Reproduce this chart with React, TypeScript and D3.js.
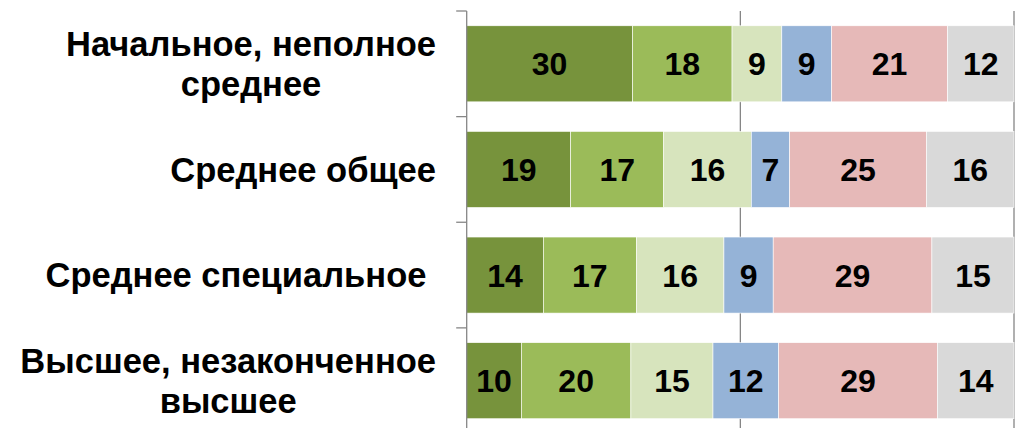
import React from "react";
import * as d3 from "d3";

const categories: string[][] = [
  ["Начальное, неполное", "среднее"],
  ["Среднее общее"],
  ["Среднее специальное "],
  ["Высшее, незаконченное", "высшее"],
];
const categoryKeys = ["c0", "c1", "c2", "c3"];

const s1 = [30, 19, 14, 10];
const s2 = [18, 17, 17, 20];
const s3 = [9, 16, 16, 15];
const s4 = [9, 7, 9, 12];
const s5 = [21, 25, 29, 29];
const s6 = [12, 16, 15, 14];
const seriesValues = [s1, s2, s3, s4, s5, s6];
const seriesColors = ["#77933C", "#9BBB59", "#D7E4BD", "#95B3D7", "#E6B9B8", "#D9D9D9"];
const gridTicks = [0.5, 1];

const W = 1020;
const H = 428;
const FONT = "'Liberation Sans', Arial, sans-serif";
const CAT_SIZE = 34.5;
const VAL_SIZE = 32;

function measure(text: string, size: number): number {
  if (typeof document === "undefined") return text.length * size * 0.6;
  const c = document.createElement("canvas");
  const ctx = c.getContext("2d");
  if (!ctx) return text.length * size * 0.6;
  ctx.font = `bold ${size}px 'Liberation Sans', Arial, sans-serif`;
  return ctx.measureText(text).width;
}

export default function App() {
  const x = d3.scaleLinear().domain([0, 1]).range([466.7, 1014]);
  const y = d3
    .scaleBand<string>()
    .domain(categoryKeys)
    .range([11, 433.5])
    .paddingInner(0.28)
    .paddingOuter(0.14);

  const rows = categoryKeys.map((k, i) => {
    const vals = seriesValues.map((s) => s[i]);
    const total = d3.sum(vals);
    let acc = 0;
    return vals.map((v, j) => {
      const x0 = acc / total;
      acc += v;
      const x1 = acc / total;
      return { key: k, v, x0, x1, color: seriesColors[j] };
    });
  });

  const step = y.step();
  const bandStart = (k: string) => (y(k) as number) - (y.paddingInner() * step) / 2;
  const boundaries = categoryKeys.map((k) => bandStart(k));
  boundaries.push(bandStart(categoryKeys[categoryKeys.length - 1]) + step);

  const lineH = 40;
  const labelRight = 436;

  return (
    <svg
      width={W}
      height={H}
      style={{ position: "absolute", left: 0, top: 0, display: "block", background: "#fff" }}
    >
      {gridTicks.map((t) => (
        <line key={t} x1={x(t)} x2={x(t)} y1={11} y2={H + 10} stroke="#868686" strokeWidth={1.3} />
      ))}
      {rows.map((row, i) =>
        row.map((d, j) => (
          <rect
            key={`${i}-${j}`}
            x={x(d.x0)}
            y={y(d.key)}
            width={x(d.x1) - x(d.x0)}
            height={y.bandwidth()}
            fill={d.color}
            stroke="#fff"
            strokeWidth={0.6}
          />
        ))
      )}
      <line x1={x(0)} x2={x(0)} y1={11} y2={H + 10} stroke="#868686" strokeWidth={1.3} />
      {boundaries.map((b, i) => (
        <line key={i} x1={x(0) - 10.5} x2={x(0)} y1={b} y2={b} stroke="#868686" strokeWidth={1.3} />
      ))}
      {rows.map((row, i) =>
        row.map((d, j) => (
          <text
            key={`t${i}-${j}`}
            x={(x(d.x0) + x(d.x1)) / 2}
            y={(y(d.key) as number) + y.bandwidth() / 2}
            dy="0.36em"
            textAnchor="middle"
            fontFamily={FONT}
            fontWeight="bold"
            fontSize={VAL_SIZE}
            fill="#000"
          >
            {d.v}
          </text>
        ))
      )}
      {categories.map((lines, i) => {
        const cy = (y(categoryKeys[i]) as number) + y.bandwidth() / 2;
        const startY = cy - ((lines.length - 1) * lineH) / 2;
        const widths = lines.map((l) => measure(l, CAT_SIZE));
        const maxW = Math.max(...widths);
        const center = labelRight - maxW / 2;
        return (
          <text
            key={`c${i}`}
            fontFamily={FONT}
            fontWeight="bold"
            fontSize={CAT_SIZE}
            fill="#000"
            style={{ whiteSpace: "pre" }}
          >
            {lines.map((l, li) => (
              <tspan
                key={li}
                x={lines.length > 1 ? center : labelRight}
                y={startY + li * lineH}
                dy="0.36em"
                textAnchor={lines.length > 1 ? "middle" : "end"}
              >
                {l}
              </tspan>
            ))}
          </text>
        );
      })}
    </svg>
  );
}
